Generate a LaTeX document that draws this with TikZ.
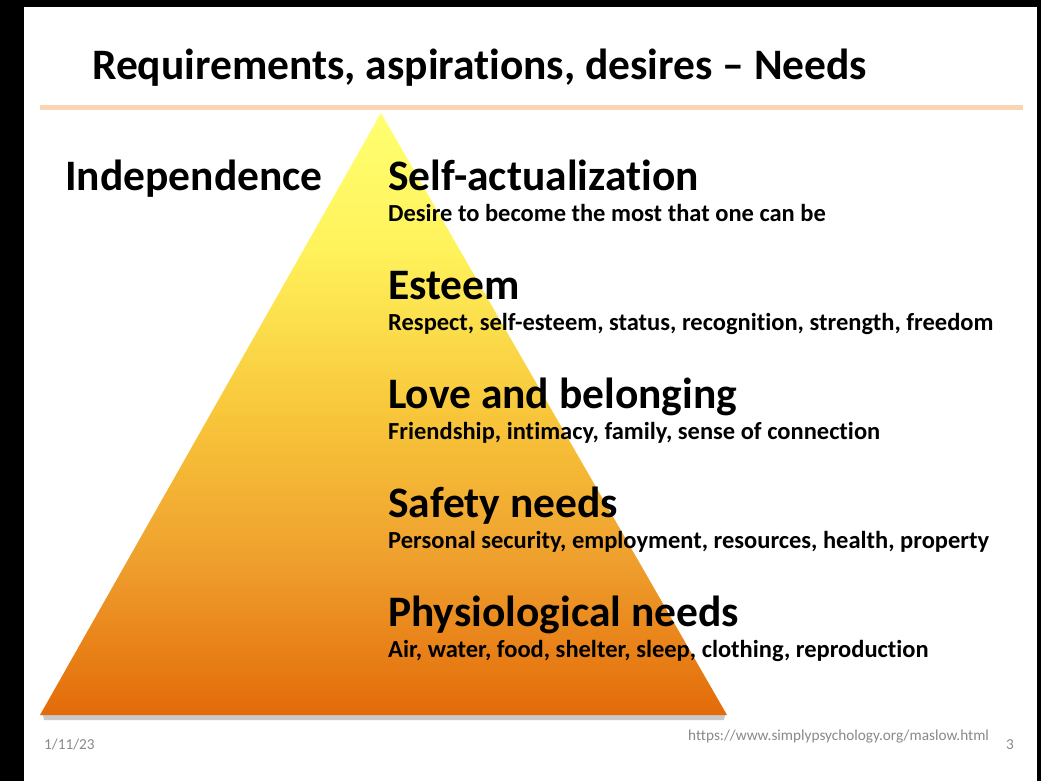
\documentclass[tikz,border=0pt]{standalone}
\usepackage{fontspec}
\setmainfont[Ligatures={TeX, NoCommon}]{Carlito}
\usepackage{xcolor}
\usetikzlibrary{calc, positioning}

\definecolor{slideline}{HTML}{FBD4B4}
\definecolor{footgray}{HTML}{898989}
\definecolor{pyrbottom}{HTML}{E36B09}
\definecolor{pyrlow}{HTML}{EFA02E}
\definecolor{pyrmid}{HTML}{F8C63A}
\definecolor{pyrupper}{HTML}{FFF35C}
\definecolor{pyrtop}{HTML}{FFFF70}
\pgfdeclareverticalshading{pyramid}{100bp}{color(0bp)=(pyrbottom); color(25bp)=(pyrbottom);
    color(38bp)=(pyrlow); color(50bp)=(pyrmid); color(64bp)=(pyrupper); color(75bp)=(pyrtop); color(100bp)=(pyrtop)}

\tikzset{
    heading/.style={anchor=base west, inner sep=0pt, font=\bfseries\fontsize{43.5}{52}\selectfont},
    detail/.style={anchor=base west, inner sep=0pt, font=\bfseries\fontsize{24.5}{29}\selectfont},
    footer/.style={anchor=base west, inner sep=0pt, text=footgray, font=\fontsize{15.25}{18}\selectfont}
}

\begin{document}
\begin{tikzpicture}[x=1pt, y=-1pt]
    \useasboundingbox (0, 0) rectangle (1041, 781);
    \fill[black] (0, 0) rectangle (1041, 781);
    \fill[white] (24, 7) rectangle (1037, 781);

    \node[anchor=base west, inner sep=0pt, font=\bfseries\fontsize{43.5}{52}\selectfont] (title) at (92, 80) {Requirements, aspirations, desires -- Needs};
    \coordinate (rulel) at (40, 107.5);
    \coordinate (ruler) at (1023, 107.5);
    \draw[slideline, line width=4.5pt] (rulel) -- (ruler);

    % pyramid
    \coordinate (apex) at (381, 113);
    \coordinate (bl) at (40, 715);
    \coordinate (br) at (727, 715);
    \fill[black!35, opacity=0.6]
    ($(bl) + (3, 0)$) -- ($(br) + (-2, 0)$) -- ($(br) + (-3, 5)$) -- ($(bl) + (4, 5)$) -- cycle;
    \shade[shading=pyramid] (apex) -- (br) -- (bl) -- cycle;

    \node[heading] (indep) at (65, 190) {Independence};

    \foreach \i/\head/\desc in {0/Self-actualization/{Desire to become the most that one can be},
        1/Esteem/{Respect, self-esteem, status, recognition, strength, freedom},
        2/Love and belonging/{Friendship, intimacy, family, sense of connection},
        3/Safety needs/{Personal security, employment, resources, health, property},
        4/Physiological needs/{Air, water, food, shelter, sleep, clothing, reproduction}} {
        \node[heading] (head\i) at (388, 190 + 109*\i) {\head};
        \node[detail] (desc\i) at (388, 221 + 109*\i) {\desc};
    }

    \node[footer] (date) at (44, 749) {1/11/23};
    \node[footer] (src) at (688, 740) {https://www.simplypsychology.org/maslow.html};
    \node[footer] (page) at (1006, 749) {3};
\end{tikzpicture}
\end{document}
